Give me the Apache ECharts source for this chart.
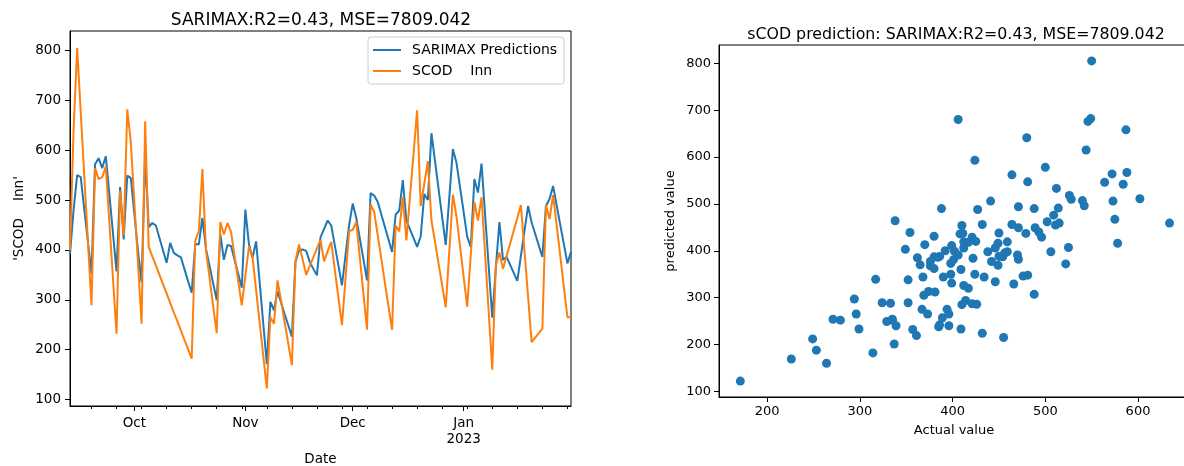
<!DOCTYPE html>
<html>
<head>
<meta charset="utf-8">
<script src="https://cdn.jsdelivr.net/npm/echarts@6/dist/echarts.min.js"></script>
<style>
html,body{margin:0;padding:0;background:#fff;}
#chart{width:1184px;height:466px;}
</style>
</head>
<body>
<div id="chart"></div>
<script>
// ---- data (daily, 2022-09-13 .. 2023-01-31) ----
const axisStart = '2022-09-13', axisEnd = '2023-01-31';
const sarimaxPred = [
 // Sep 13-30
 392,480,550,546,481,417,352,572,584,564,588,511,434,357,526,421,549,544,
 // Oct
 471,398,335,587,446,454,449,424,399,374,414,394,389,385,361,337,314,412,411,464,402,368,333,299,432,380,410,408,380,352,324,
 // Nov
 481,412,384,417,335,253,171,296,279,317,294,271,249,226,376,399,401,398,376,362,349,425,442,459,449,409,369,329,390,450,
 // Dec
 493,464,422,381,339,514,509,496,471,446,421,396,471,479,540,459,441,424,406,427,512,500,634,578,522,466,410,506,602,575,525,
 // Jan
 476,426,406,542,515,573,470,367,264,365,456,380,386,370,354,338,388,438,488,455,432,409,386,488,502,528,489,450,412,373,396
];
const scodInn = [
 // Sep 13-30
 400,641,805,676,547,418,289,564,542,546,567,455,344,232,518,429,682,615,
 // Oct
 494,373,252,658,406,387,369,350,331,313,294,275,257,238,219,201,182,419,437,562,399,344,288,233,456,431,454,436,387,338,289,
 // Nov
 348,406,386,320,254,188,122,265,252,339,297,254,212,169,377,411,381,350,368,385,403,420,377,398,416,360,305,249,344,438,
 // Dec
 440,456,384,312,240,491,476,429,382,334,287,240,449,437,507,419,506,593,680,488,533,578,459,416,372,329,285,398,511,467,407,
 // Jan
 346,286,391,496,459,506,391,275,160,370,395,362,388,413,439,464,490,398,307,215,224,233,242,490,462,510,449,388,326,265,265
];
const yTicks = [100,200,300,400,500,600,700,800];
const xTicksScatter = [200,300,400,500,600];
const monthNames = {'10':'Oct','11':'Nov','12':'Dec','01':'Jan\n2023'};

// ---- category days ----
const days = [];
for (let t = Date.parse(axisStart+'T00:00:00Z'); t <= Date.parse(axisEnd+'T00:00:00Z'); t += 86400000) {
  days.push(new Date(t).toISOString().slice(0,10));
}
const isMonthStart = (v) => v.slice(8) === '01';
const isMonday = (v) => new Date(v+'T00:00:00Z').getUTCDay() === 1;

const scatterPts = sarimaxPred.map((p,i)=>[p, scodInn[i]]);

const FONT = 'DejaVu Sans';
const chart = echarts.init(document.getElementById('chart'), null, {renderer:'canvas'});
chart.setOption({
  animation:false,
  textStyle:{fontFamily:FONT},
  title:[
    {text:'SARIMAX:R2=0.43, MSE=7809.042', left:316, top:7, textAlign:'center',
     textStyle:{fontFamily:FONT,fontSize:17,fontWeight:'normal',color:'#000'}},
    {text:'sCOD prediction: SARIMAX:R2=0.43, MSE=7809.042', left:951, top:22, textAlign:'center',
     textStyle:{fontFamily:FONT,fontSize:15.8,fontWeight:'normal',color:'#000'}}
  ],
  legend:{
    data:[{name:'SARIMAX Predictions',icon:'rect'},{name:'SCOD    Inn',icon:'rect'}],
    orient:'vertical', left:368, top:37,
    padding:[5,7,5,5], itemGap:5, itemWidth:28, itemHeight:2, itemTextGap:10,
    borderColor:'#cccccc', borderWidth:1, borderRadius:3, backgroundColor:'rgba(255,255,255,0.8)',
    textStyle:{fontFamily:FONT,fontSize:14,color:'#000',lineHeight:16,padding:[0,0,0,6]}
  },
  grid:[
    {left:70, top:31, width:501, height:375, show:true, borderColor:'#000', borderWidth:1,
     backgroundColor:'transparent', outerBoundsMode:'none', containLabel:false},
    {left:719, top:45, width:470, height:352, show:true, borderColor:'#000', borderWidth:1,
     backgroundColor:'transparent', outerBoundsMode:'none', containLabel:false}
  ],
  xAxis:[
    {type:'category', gridIndex:0, data:days, boundaryGap:false,
     axisLine:{show:true,lineStyle:{color:'#000',width:1}},
     axisTick:{show:true, length:5, lineStyle:{color:'#000'}, interval:(i,v)=>isMonthStart(v)},
     axisLabel:{interval:(i,v)=>isMonthStart(v), formatter:(v)=>monthNames[v.slice(5,7)]||'',
       fontFamily:FONT, fontSize:13.5, color:'#000', margin:9, lineHeight:16},
     splitLine:{show:false},
     name:'Date', nameLocation:'middle', nameGap:46, nameTextStyle:{fontFamily:FONT,fontSize:13.5,color:'#000'}},
    {type:'category', gridIndex:0, data:days, boundaryGap:false, position:'bottom',
     axisLine:{show:false},
     axisTick:{show:true, length:3, lineStyle:{color:'#000'}, interval:(i,v)=>isMonday(v)&&!isMonthStart(v)},
     axisLabel:{show:false}, splitLine:{show:false}},
    {type:'value', gridIndex:1, min:148, max:655,
     axisLine:{show:true,lineStyle:{color:'#000',width:1}},
     axisTick:{show:true,length:5,lineStyle:{color:'#000'},customValues:xTicksScatter},
     axisLabel:{customValues:xTicksScatter, fontFamily:FONT,fontSize:13,color:'#000',margin:8},
     splitLine:{show:false},
     name:'Actual value', nameLocation:'middle', nameGap:27, nameTextStyle:{fontFamily:FONT,fontSize:13,color:'#000'}}
  ],
  yAxis:[
    {type:'value', gridIndex:0, min:87, max:839,
     axisLine:{show:true,lineStyle:{color:'#000',width:1}},
     axisTick:{show:true,length:5,lineStyle:{color:'#000'},customValues:yTicks},
     axisLabel:{customValues:yTicks, fontFamily:FONT,fontSize:13.5,color:'#000',margin:9},
     splitLine:{show:false},
     name:"'SCOD    Inn'", nameLocation:'middle', nameGap:44, nameRotate:90,
     nameTextStyle:{fontFamily:FONT,fontSize:13.5,color:'#000'}},
    {type:'value', gridIndex:1, min:88, max:839,
     axisLine:{show:true,lineStyle:{color:'#000',width:1}},
     axisTick:{show:true,length:5,lineStyle:{color:'#000'},customValues:yTicks},
     axisLabel:{customValues:yTicks, fontFamily:FONT,fontSize:13,color:'#000',margin:8},
     splitLine:{show:false},
     name:'predicted value', nameLocation:'middle', nameGap:42, nameRotate:90,
     nameTextStyle:{fontFamily:FONT,fontSize:13,color:'#000'}}
  ],
  series:[
    {name:'SARIMAX Predictions', type:'line', xAxisIndex:0, yAxisIndex:0, data:sarimaxPred,
     symbol:'none', color:'#1f77b4', lineStyle:{color:'#1f77b4',width:2}, z:2},
    {name:'SCOD    Inn', type:'line', xAxisIndex:0, yAxisIndex:0, data:scodInn,
     symbol:'none', color:'#ff7f0e', lineStyle:{color:'#ff7f0e',width:2}, z:3},
    {type:'scatter', xAxisIndex:2, yAxisIndex:1, data:scatterPts, symbolSize:9,
     itemStyle:{color:'#1f77b4', opacity:1}, z:2}
  ]
});
</script>
</body>
</html>
